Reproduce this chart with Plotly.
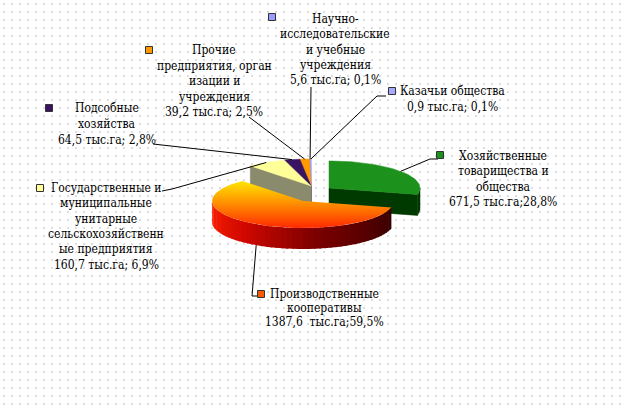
import numpy as np
import plotly.graph_objects as go
from plotly.colors import sample_colorscale

# data
categories = [
    "Хозяйственные<br>товарищества и<br>общества",
    "Производственные<br>кооперативы",
    "Государственные и<br>муниципальные<br>унитарные<br>сельскохозяйственн<br>ые предприятия",
    "Подсобные<br>хозяйства",
    "Прочие<br>предприятия, орган<br>изации и<br>учреждения",
    "Научно-<br>исследовательские<br>и учебные<br>учреждения",
    "Казачьи общества",
]
values = [671.5, 1387.6, 160.7, 64.5, 39.2, 5.6, 0.9]  # тыс. га
value_labels = [
    "671,5 тыс.га;28,8%",
    "1387,6  тыс.га;59,5%",
    "160,7 тыс.га; 6,9%",
    "64,5 тыс.га; 2,8%",
    "39,2 тыс.га; 2,5%",
    "5,6 тыс.га; 0,1%",
    "0,9 тыс.га; 0,1%",
]

# style
W, H = 624, 413
top_colors = ["#1c921c", None, "#ffff99", "#3a1463", "#ff9a00", "#9c9cff", "#a8a8ff"]
face_colors = ["#003a00", "#5a0000", "#8a8a6c", "#1c0a34", "#9a5a00", "#5c5c99", "#6464a0"]
side_scale = [[0, "#ff2200"], [0.3, "#d00800"], [0.6, "#7a0000"], [1, "#360000"]]
centers = [(329, 188), (303, 201), (311, 186), (311, 186), (311, 186), (311, 186), (311, 186)]
RX, RY, DEPTH = 91, 27, 21
FONT = "DejaVu Serif Condensed, DejaVu Serif"

# label layout: marker, text centre, first line y, line gap, leader start points
label_layout = [
    dict(mk=(440, 155), tx=503, ty=156, gap=15.3, lead=[(438, 159), (430, 159)]),
    dict(mk=(261, 294), tx=324, ty=294, gap=14, lead=[(258, 296), (252, 296)]),
    dict(mk=(40, 188), tx=106, ty=188, gap=15.3, lead=[(162, 191), (172, 189)]),
    dict(mk=(49, 108), tx=107, ty=108, gap=15.8, lead=[(153, 144)]),
    dict(mk=(149, 50), tx=214, ty=50, gap=15.5, lead=[(249, 117)]),
    dict(mk=(272, 17), tx=335, ty=19, gap=15.3, lead=[(311, 87)]),
    dict(mk=(392, 91), tx=452, ty=91, gap=16, lead=[(386, 96), (377, 96)]),
]

total = sum(values)
spans = [v / total * 360 for v in values]
starts = 90 - np.concatenate([[0], np.cumsum(spans)[:-1]])
ends = starts - np.array(spans)


def pt(c, a, dy=0):
    r = np.radians(a)
    return c[0] + RX * np.cos(r), c[1] - RY * np.sin(r) + dy


def arc(c, a0, a1, dy=0, n=None):
    n = n or max(4, int(abs(a0 - a1) / 2))
    ang = np.linspace(a0, a1, n)
    return [pt(c, a, dy) for a in ang]


fig = go.Figure()

# dotted background
fig.add_trace(go.Scatter(
    x=[0, W, W, 0, 0], y=[0, 0, H - 4, H - 4, 0], fill="toself", mode="none",
    fillpattern=dict(shape=".", size=8, solidity=0.04, fgcolor="#9a9a9a", bgcolor="white"),
    hoverinfo="skip", showlegend=False))


def poly(points, color=None, grad=None, lw=0.5):
    xs = [p[0] for p in points] + [points[0][0]]
    ys = [p[1] for p in points] + [points[0][1]]
    kw = dict(fillgradient=grad) if grad else dict(fillcolor=color)
    fig.add_trace(go.Scatter(x=xs, y=ys, fill="toself", mode="lines",
                             line=dict(width=lw, color=color or "rgba(0,0,0,0)"),
                             hoverinfo="skip", showlegend=False, **kw))


# draw back slices first, the big front slice last
order = [6, 5, 4, 3, 2, 0, 1]
for i in order:
    c = centers[i]
    a0, a1 = starts[i], ends[i]
    c_low = (c[0], c[1] + DEPTH)
    # radial cut faces
    for a, nrm in ((a0, a0 + 90), (a1, a1 - 90)):
        if np.sin(np.radians(nrm)) < -1e-6:
            rim = pt(c, a)
            poly([c, rim, (rim[0], rim[1] + DEPTH), c_low], face_colors[i])
    # outer wall (front half only)
    lo, hi = a1, a0
    segs = []
    for k in range(-2, 2):
        s0, s1 = max(lo, 180 + 360 * k), min(hi, 360 + 360 * k)
        if s1 > s0:
            segs.append((s1, s0))
    for s1, s0 in segs:
        if i == 1:
            # big slice: thin strips so the wall darkens towards the right
            edges = np.linspace(s0, s1, 49)
            cols = sample_colorscale(side_scale, np.linspace(0, 1, len(edges) - 1))
            for j in range(len(edges) - 1):
                e0, e1 = edges[j], min(edges[j + 1] + 1.0, s1)
                poly(arc(c, e1, e0, n=3) + arc(c, e0, e1, DEPTH, n=3), cols[j], lw=0)
        else:
            poly(arc(c, s1, s0) + arc(c, s0, s1, DEPTH), face_colors[i])
    # top face
    top = [c] + arc(c, a0, a1)
    if i == 1:
        poly(top, grad=dict(type="vertical",
                            colorscale=[[0, "#ff2a00"], [0.55, "#ff9400"], [1, "#ffe600"]]))
    else:
        poly(top, top_colors[i])

# leader lines, markers and labels
for i, lay in enumerate(label_layout):
    mid = (starts[i] + ends[i]) / 2
    ax, ay = pt(centers[i], mid, DEPTH if np.sin(np.radians(mid)) < 0 else 0)
    pts = lay["lead"] + [(ax, ay)]
    fig.add_trace(go.Scatter(x=[p[0] for p in pts], y=[p[1] for p in pts], mode="lines",
                             line=dict(color="black", width=1), hoverinfo="skip", showlegend=False))
    fig.add_trace(go.Scatter(x=[lay["mk"][0]], y=[lay["mk"][1]], mode="markers",
                             marker=dict(symbol="square", size=7, color=top_colors[i] or "#ff5a00",
                                         line=dict(color="#333333", width=1)),
                             hoverinfo="skip", showlegend=False))
    lines = categories[i].split("<br>") + [value_labels[i]]
    for k, ln in enumerate(lines):
        fig.add_annotation(x=lay["tx"], y=lay["ty"] + k * lay["gap"], text=ln, showarrow=False,
                           xref="x", yref="y", xanchor="center", yanchor="middle",
                           font=dict(family=FONT, size=12, color="black"))

fig.update_layout(
    width=W, height=H, margin=dict(l=0, r=0, t=0, b=0),
    paper_bgcolor="white", plot_bgcolor="white", showlegend=False,
    font=dict(family=FONT),
    xaxis=dict(range=[0, W], visible=False, fixedrange=True),
    yaxis=dict(range=[H, 0], visible=False, fixedrange=True),
)
# drop the default 8px page margin so the figure sits at the window's corner
fig.write_html("out.html", config={"displayModeBar": False},
               post_script="document.body.style.margin='0';")
